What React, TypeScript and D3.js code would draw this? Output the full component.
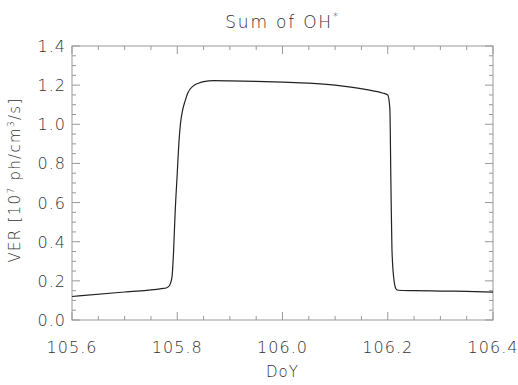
import React from "react";
import * as d3 from "d3";

const doy = [105.6, 105.7, 105.77, 105.78, 105.785, 105.79, 105.793, 105.796, 105.8, 105.803, 105.806, 105.81, 105.815, 105.82, 105.83, 105.84, 105.85, 105.87, 105.9, 105.95, 106.0, 106.05, 106.1, 106.13, 106.16, 106.19, 106.2, 106.204, 106.206, 106.208, 106.212, 106.216, 106.22, 106.25, 106.3, 106.35, 106.4];
const ver = [0.12, 0.143, 0.16, 0.165, 0.175, 0.22, 0.35, 0.55, 0.75, 0.9, 1.0, 1.07, 1.12, 1.16, 1.195, 1.21, 1.218, 1.223, 1.222, 1.219, 1.215, 1.21, 1.2, 1.19, 1.177, 1.16, 1.15, 1.08, 0.7, 0.36, 0.2, 0.158, 0.152, 0.15, 0.148, 0.146, 0.142];
const xTicks = [105.6, 105.8, 106.0, 106.2, 106.4];
const yTicks = [0.0, 0.2, 0.4, 0.6, 0.8, 1.0, 1.2, 1.4];

export default function App() {
  const W = 518, H = 385;
  const L = 72, R = 493, T = 46, B = 320;
  const x = d3.scaleLinear().domain([105.6, 106.4]).range([L, R]);
  const y = d3.scaleLinear().domain([0, 1.4]).range([B, T]);
  const line = d3.line<number>().x((d, i) => x(doy[i])).y((d) => y(d)).curve(d3.curveMonotoneX);
  const xMinor = d3.range(105.6, 106.4001, 0.05);
  const yMinor = d3.range(0, 1.4001, 0.05);
  const font = "'DejaVu Sans', sans-serif";
  const axisCol = "#999";
  const textCol = "#333";
  const maj = 8, min = 4;
  return (
    <svg width={W} height={H} style={{ position: "absolute", left: 0, top: 0, background: "#fff" }} fontFamily={font} fontWeight={300}>
      <rect x={L} y={T} width={R - L} height={B - T} fill="none" stroke={axisCol} strokeWidth={1} />
      {xMinor.map((v, i) => {
        const isMaj = i % 4 === 0;
        const len = isMaj ? maj : min;
        return (
          <g key={"xt" + i}>
            <line x1={x(v)} x2={x(v)} y1={B} y2={B - len} stroke={axisCol} />
            <line x1={x(v)} x2={x(v)} y1={T} y2={T + len} stroke={axisCol} />
          </g>
        );
      })}
      {yMinor.map((v, i) => {
        const isMaj = i % 4 === 0;
        const len = isMaj ? maj : min;
        return (
          <g key={"yt" + i}>
            <line x1={L} x2={L + len} y1={y(v)} y2={y(v)} stroke={axisCol} />
            <line x1={R} x2={R - len} y1={y(v)} y2={y(v)} stroke={axisCol} />
          </g>
        );
      })}
      {xTicks.map((v) => (
        <text key={"xl" + v} x={x(v)} y={B + 33} textAnchor="middle" fontSize={16} fill={textCol} letterSpacing={1}>
          {v.toFixed(1)}
        </text>
      ))}
      {yTicks.map((v) => (
        <text key={"yl" + v} x={L - 6} y={y(v) + 6} textAnchor="end" fontSize={16} fill={textCol} letterSpacing={1}>
          {v.toFixed(1)}
        </text>
      ))}
      <text x={(L + R) / 2} y={B + 57} textAnchor="middle" fontSize={15} fill={textCol} letterSpacing={1}>DoY</text>
      <text transform={`translate(20,${(T + B) / 2 - 3}) rotate(-90)`} textAnchor="middle" fontSize={15} fill={textCol} letterSpacing={1.3}>
        VER [10<tspan dy={-6} fontSize={9}>7</tspan><tspan dy={6}> ph/cm</tspan><tspan dy={-6} fontSize={9}>3</tspan><tspan dy={6}>/s]</tspan>
      </text>
      <text x={(L + R) / 2} y={28} textAnchor="middle" fontSize={17} fill={textCol} letterSpacing={1.8}>
        Sum of OH<tspan dy={-8} fontSize={10}>*</tspan>
      </text>
      <path d={line(ver) || ""} fill="none" stroke="#222" strokeWidth={1.2} />
    </svg>
  );
}
